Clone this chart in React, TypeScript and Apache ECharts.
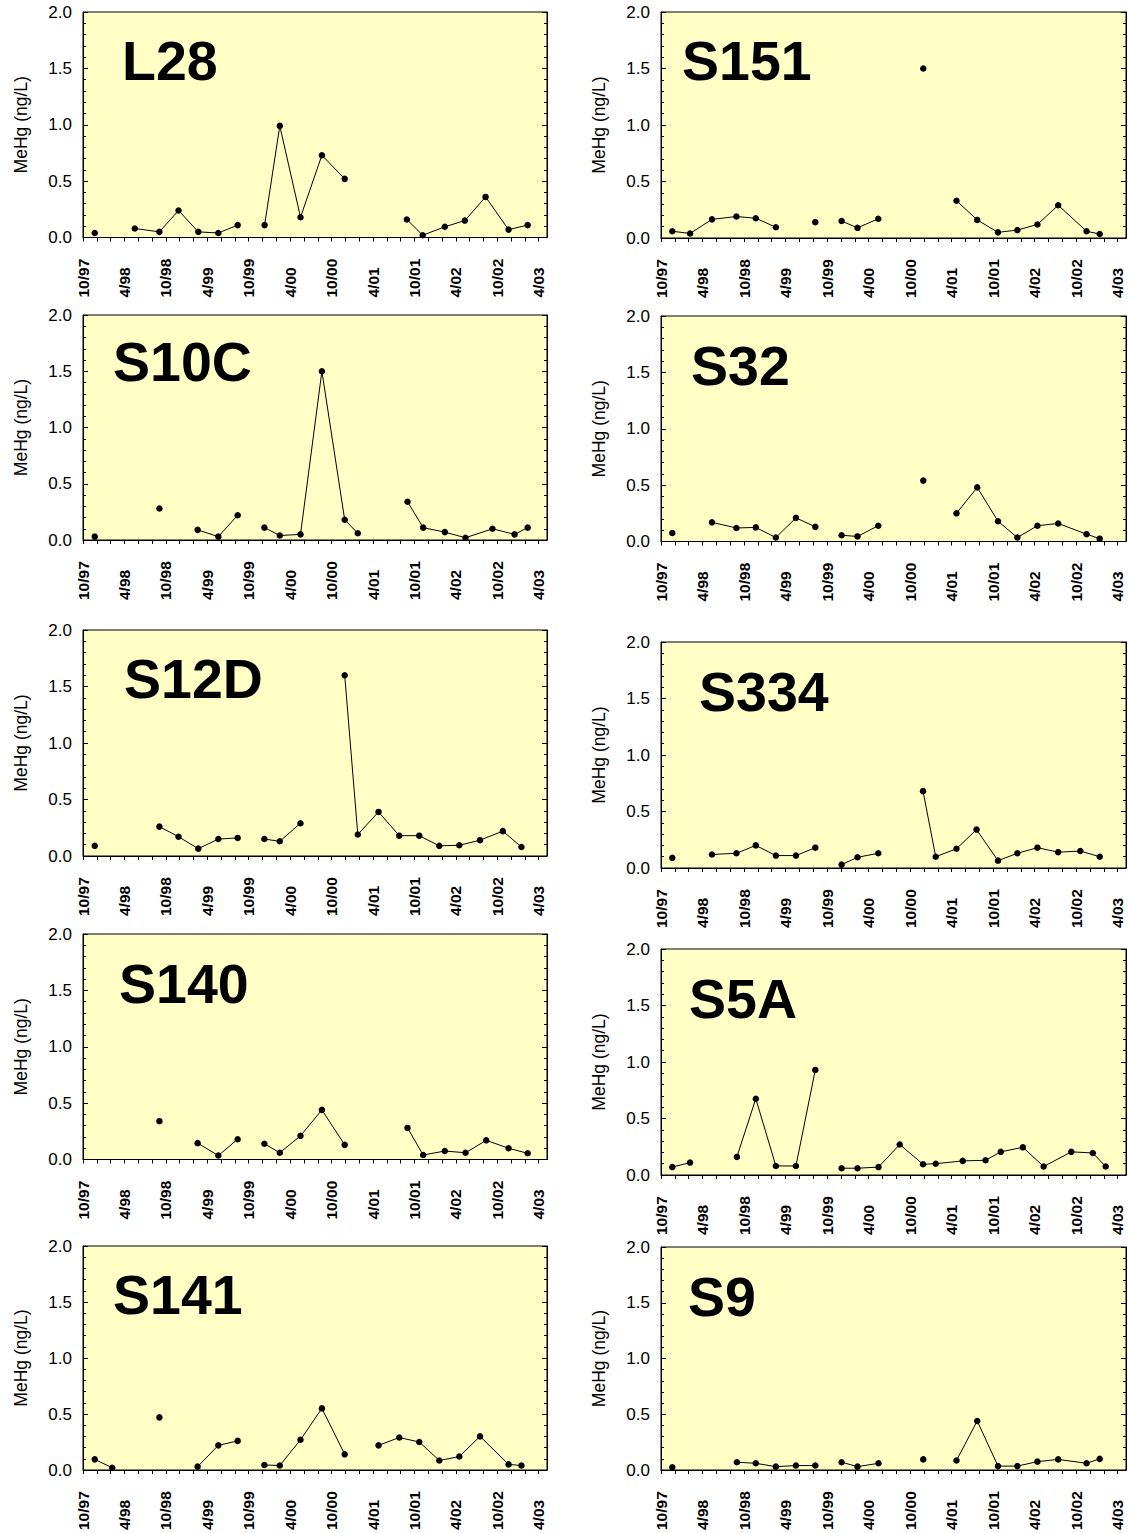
import React, { useEffect, useRef } from "react";
import * as echarts from "echarts";

type Pt = [string, number] | null;

// Tick labels of the date axis (every 6 months from Oct 1997)
const X_TICK_LABELS = ["10/97", "4/98", "10/98", "4/99", "10/99", "4/00", "10/00", "4/01", "10/01", "4/02", "10/02", "4/03"];
const Y_TICKS = [0, 0.5, 1.0, 1.5, 2.0];

const STATIONS = ["L28", "S151", "S10C", "S32", "S12D", "S334", "S140", "S5A", "S141", "S9"];

// MeHg (ng/L) samples; null = break in the line
const L28: Pt[] = [
  ["1997-11-22", 0.04], null,
  ["1998-05-16", 0.08], ["1998-09-03", 0.05], ["1998-11-26", 0.24], ["1999-02-22", 0.05], ["1999-05-19", 0.04], ["1999-08-13", 0.11], null,
  ["1999-12-10", 0.11], ["2000-02-16", 0.99], ["2000-05-16", 0.18], ["2000-08-19", 0.73], ["2000-11-28", 0.52], null,
  ["2001-08-28", 0.16], ["2001-11-07", 0.02], ["2002-02-13", 0.095], ["2002-05-10", 0.15], ["2002-08-10", 0.36], ["2002-11-20", 0.07], ["2003-02-13", 0.11],
];
const S151: Pt[] = [
  ["1997-11-20", 0.06], ["1998-02-07", 0.04], ["1998-05-12", 0.165], ["1998-08-28", 0.19], ["1998-11-22", 0.175], ["1999-02-19", 0.095], null,
  ["1999-08-10", 0.14], null,
  ["1999-12-04", 0.15], ["2000-02-13", 0.09], ["2000-05-13", 0.17], null,
  ["2000-11-28", 1.5], null,
  ["2001-04-22", 0.33], ["2001-07-22", 0.16], ["2001-10-22", 0.05], ["2002-01-16", 0.07], ["2002-04-13", 0.12], ["2002-07-13", 0.29], ["2002-11-16", 0.06], ["2003-01-13", 0.035],
];
const S10C: Pt[] = [
  ["1997-11-22", 0.03], null,
  ["1998-09-03", 0.28], null,
  ["1999-02-19", 0.09], ["1999-05-19", 0.03], ["1999-08-13", 0.22], null,
  ["1999-12-09", 0.11], ["2000-02-16", 0.04], ["2000-05-16", 0.05], ["2000-08-19", 1.5], ["2000-11-28", 0.18], ["2001-01-25", 0.06], null,
  ["2001-09-01", 0.34], ["2001-11-09", 0.11], ["2002-02-13", 0.07], ["2002-05-13", 0.02], ["2002-09-10", 0.1], ["2002-12-16", 0.05], ["2003-02-13", 0.11],
];
const S32: Pt[] = [
  ["1997-11-20", 0.075], null,
  ["1998-05-12", 0.17], ["1998-08-28", 0.12], ["1998-11-22", 0.125], ["1999-02-19", 0.035], ["1999-05-16", 0.21], ["1999-08-10", 0.13], null,
  ["1999-12-04", 0.055], ["2000-02-13", 0.045], ["2000-05-13", 0.14], null,
  ["2000-11-28", 0.54], null,
  ["2001-04-22", 0.25], ["2001-07-22", 0.48], ["2001-10-22", 0.18], ["2002-01-16", 0.035], ["2002-04-13", 0.14], ["2002-07-13", 0.16], ["2002-11-16", 0.065], ["2003-01-13", 0.025],
];
const S12D: Pt[] = [
  ["1997-11-22", 0.09], null,
  ["1998-09-03", 0.26], ["1998-11-26", 0.17], ["1999-02-22", 0.065], ["1999-05-19", 0.15], ["1999-08-13", 0.16], null,
  ["1999-12-09", 0.15], ["2000-02-16", 0.13], ["2000-05-16", 0.29], null,
  ["2000-11-28", 1.6], ["2001-01-25", 0.19], ["2001-04-25", 0.39], ["2001-07-25", 0.18], ["2001-10-22", 0.18], ["2002-01-19", 0.09], ["2002-04-16", 0.095], ["2002-07-16", 0.14], ["2002-10-25", 0.22], ["2003-01-16", 0.08],
];
const S334: Pt[] = [
  ["1997-11-20", 0.09], null,
  ["1998-05-12", 0.12], ["1998-08-28", 0.13], ["1998-11-22", 0.2], ["1999-02-19", 0.11], ["1999-05-16", 0.11], ["1999-08-10", 0.18], null,
  ["1999-12-04", 0.03], ["2000-02-13", 0.095], ["2000-05-13", 0.13], null,
  ["2000-11-27", 0.68], ["2001-01-22", 0.1], ["2001-04-22", 0.17], ["2001-07-19", 0.34], ["2001-10-22", 0.065], ["2002-01-16", 0.13], ["2002-04-13", 0.18], ["2002-07-13", 0.14], ["2002-10-19", 0.15], ["2003-01-13", 0.1],
];
const S140: Pt[] = [
  ["1998-09-03", 0.34], null,
  ["1999-02-19", 0.145], ["1999-05-19", 0.035], ["1999-08-13", 0.18], null,
  ["1999-12-09", 0.14], ["2000-02-16", 0.06], ["2000-05-16", 0.21], ["2000-08-19", 0.44], ["2000-11-28", 0.13], null,
  ["2001-09-01", 0.28], ["2001-11-09", 0.04], ["2002-02-13", 0.075], ["2002-05-13", 0.06], ["2002-08-13", 0.17], ["2002-11-20", 0.1], ["2003-02-13", 0.055],
];
const S5A: Pt[] = [
  ["1997-11-20", 0.07], ["1998-02-07", 0.11], null,
  ["1998-08-30", 0.16], ["1998-11-22", 0.675], ["1999-02-19", 0.08], ["1999-05-16", 0.08], ["1999-08-10", 0.93], null,
  ["1999-12-04", 0.06], ["2000-02-13", 0.06], ["2000-05-14", 0.07], ["2000-08-16", 0.27], ["2000-11-27", 0.095], ["2001-01-22", 0.1], ["2001-05-19", 0.125], ["2001-08-28", 0.13], ["2001-11-04", 0.205], ["2002-02-10", 0.245], ["2002-05-10", 0.075], ["2002-09-10", 0.205], ["2002-12-13", 0.195], ["2003-02-09", 0.075],
];
const S141: Pt[] = [
  ["1997-11-22", 0.095], ["1998-02-08", 0.02], null,
  ["1998-09-03", 0.47], null,
  ["1999-02-19", 0.03], ["1999-05-19", 0.22], ["1999-08-13", 0.26], null,
  ["1999-12-09", 0.045], ["2000-02-16", 0.04], ["2000-05-16", 0.27], ["2000-08-19", 0.55], ["2000-11-28", 0.14], null,
  ["2001-04-25", 0.22], ["2001-07-25", 0.29], ["2001-10-22", 0.25], ["2002-01-19", 0.085], ["2002-04-16", 0.12], ["2002-07-16", 0.3], ["2002-11-20", 0.05], ["2003-01-16", 0.04],
];
const S9: Pt[] = [
  ["1997-11-20", 0.025], null,
  ["1998-08-30", 0.07], ["1998-11-22", 0.06], ["1999-02-19", 0.03], ["1999-05-16", 0.04], ["1999-08-10", 0.04], null,
  ["1999-12-04", 0.07], ["2000-02-13", 0.03], ["2000-05-14", 0.06], null,
  ["2000-11-28", 0.095], null,
  ["2001-04-22", 0.085], ["2001-07-22", 0.44], ["2001-10-22", 0.035], ["2002-01-16", 0.035], ["2002-04-13", 0.075], ["2002-07-13", 0.095], ["2002-11-16", 0.06], ["2003-01-13", 0.1],
];

const SERIES_DATA: Pt[][] = [L28, S151, S10C, S32, S12D, S334, S140, S5A, S141, S9];

// Layout (pixels)
const COL_LEFT = [83, 661];
const COL_WIDTH = [464, 465];
const PANEL_TOP = [12, 12, 315, 316, 630, 642, 934, 949, 1246, 1247];
const PANEL_BOTTOM = [237.5, 238, 540, 541.5, 856, 868, 1159.5, 1175, 1472, 1472.5];
const NAME_POS: [number, number][] = [
  [122, 61], [682, 61], [113, 362], [691, 366], [124, 679], [699, 692], [119, 984], [689, 999], [113, 1295], [688, 1297],
];

const FONT = "'Liberation Sans', Arial, Helvetica, sans-serif";
const X_MAX = 67.2;

const toMonths = (d: string) => {
  const [y, m, day] = d.split("-").map(Number);
  return (y - 1997) * 12 + (m - 10) + (day - 1) / 30;
};

const splitSegments = (arr: Pt[]) => {
  const segs: [number, number][][] = [];
  let cur: [number, number][] = [];
  arr.forEach((p) => {
    if (p === null) {
      if (cur.length) segs.push(cur);
      cur = [];
    } else {
      cur.push([toMonths(p[0]), p[1]]);
    }
  });
  if (cur.length) segs.push(cur);
  return segs;
};

export default function App() {
  const ref = useRef<HTMLDivElement>(null);
  useEffect(() => {
    if (!ref.current) return;
    const chart = echarts.init(ref.current, undefined, { renderer: "svg" });
    const labelVals = X_TICK_LABELS.map((_, i) => i * 6);
    const tickVals: number[] = [];
    for (let v = 0; v <= 66; v += 2) tickVals.push(v);

    const grids: any[] = [];
    const xAxes: any[] = [];
    const yAxes: any[] = [];
    const series: any[] = [];
    const graphics: any[] = [];

    STATIONS.forEach((name, i) => {
      const c = i % 2;
      grids.push({
        left: COL_LEFT[c],
        top: PANEL_TOP[i],
        width: COL_WIDTH[c],
        height: PANEL_BOTTOM[i] - PANEL_TOP[i],
        show: true,
        backgroundColor: "#FFFFC6",
        borderColor: "#000",
        borderWidth: 1,
      });
      xAxes.push({
        type: "value",
        gridIndex: i,
        min: 0,
        max: X_MAX,
        position: "bottom",
        axisLine: { show: true, onZero: false, lineStyle: { color: "#000", width: 1 } },
        axisTick: { show: true, inside: false, length: 4, customValues: tickVals, lineStyle: { color: "#000", width: 1 } },
        axisLabel: {
          show: true,
          customValues: labelVals,
          rotate: 90,
          align: "left",
          verticalAlign: "middle",
          margin: 60,
          fontFamily: FONT,
          fontWeight: "bold",
          fontSize: 15.5,
          color: "#000",
          formatter: (v: number) => X_TICK_LABELS[Math.round(v / 6)] ?? "",
        },
        splitLine: { show: false },
      });
      yAxes.push({
        type: "value",
        gridIndex: i,
        min: 0,
        max: 2,
        interval: 0.5,
        position: "left",
        name: "MeHg (ng/L)",
        nameLocation: "middle",
        nameGap: 53,
        nameTextStyle: { fontFamily: FONT, fontSize: 17.5, color: "#000" },
        axisLine: { show: true, onZero: false, lineStyle: { color: "#000", width: 1 } },
        axisTick: { show: true, inside: true, length: 5, lineStyle: { color: "#000" } },
        minorTick: { show: true, splitNumber: 5, length: 3, lineStyle: { color: "#000" } },
        axisLabel: {
          fontFamily: FONT,
          fontSize: 17,
          color: "#000",
          margin: 11,
          formatter: (v: number) => (Y_TICKS.includes(v) ? v.toFixed(1) : ""),
        },
        splitLine: { show: false },
        minorSplitLine: { show: false },
      });
      yAxes.push({
        type: "value",
        gridIndex: i,
        min: 0,
        max: 2,
        interval: 0.5,
        position: "right",
        axisLine: { show: true, onZero: false, lineStyle: { color: "#000", width: 1 } },
        axisTick: { show: true, inside: true, length: 5, lineStyle: { color: "#000" } },
        minorTick: { show: true, splitNumber: 5, length: 3, lineStyle: { color: "#000" } },
        axisLabel: { show: false },
        splitLine: { show: false },
        minorSplitLine: { show: false },
      });
      splitSegments(SERIES_DATA[i]).forEach((seg) => {
        series.push({
          type: "line",
          xAxisIndex: i,
          yAxisIndex: 2 * i,
          data: seg,
          symbol: "circle",
          symbolSize: 6.5,
          showSymbol: true,
          lineStyle: { color: "#000", width: 1 },
          itemStyle: { color: "#000" },
          silent: true,
          z: 3,
        });
      });
      graphics.push({
        type: "text",
        x: NAME_POS[i][0],
        y: NAME_POS[i][1],
        z: 10,
        style: {
          text: name,
          fontFamily: FONT,
          fontWeight: "bold",
          fontSize: 55.5,
          fill: "#000",
          align: "left",
          verticalAlign: "middle",
        },
      });
    });

    chart.setOption({
      animation: false,
      backgroundColor: "#fff",
      grid: grids,
      xAxis: xAxes,
      yAxis: yAxes,
      series,
      graphic: graphics,
    });
    return () => chart.dispose();
  }, []);

  return (
    <div
      ref={ref}
      style={{ position: "absolute", left: 0, top: 0, width: 1129, height: 1533, background: "#fff" }}
    />
  );
}
